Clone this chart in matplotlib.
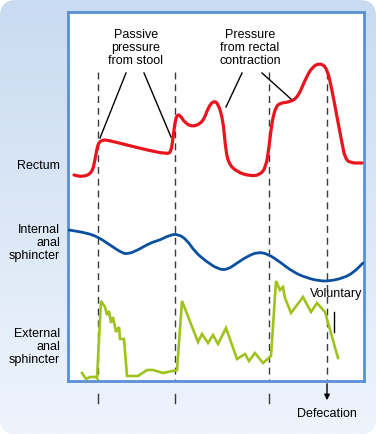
import numpy as np
import matplotlib.pyplot as plt
from matplotlib.patches import FancyBboxPatch, PathPatch
from matplotlib.path import Path

plt.rcParams['font.family'] = ['Liberation Sans', 'DejaVu Sans']

# Traces (time along x, level with larger = lower on screen)
rectum_t = [74, 83, 92, 95, 97, 99, 103, 107, 127, 147, 167, 171, 173, 175, 177, 180, 185,
            193, 203, 208, 213, 218, 223, 225, 228, 237, 250, 260, 266, 269, 271, 273, 276,
            280, 290, 298, 305, 312, 320, 327, 332, 337, 342, 345, 350, 362]
rectum_p = [175, 177, 173, 160, 148, 142, 140, 140, 145, 150, 154, 152, 138, 122, 115, 115, 123,
            127, 122, 108, 101, 103, 120, 143, 163, 172, 176, 175, 167, 147, 130, 117, 107,
            103, 102, 97, 80, 67, 63, 68, 90, 117, 143, 158, 163, 163]

internal_t = [69, 87, 98, 110, 122, 128, 138, 150, 160, 170, 178, 187, 195, 207, 218, 227,
              237, 248, 258, 268, 280, 293, 307, 320, 330, 343, 353, 363]
internal_p = [230, 233, 237, 245, 253, 254, 250, 243, 240, 235, 234, 240, 252, 262, 269, 270,
              263, 256, 252, 254, 262, 272, 278, 281, 281, 278, 273, 263]

external_t = [82, 86, 90, 96, 97, 101, 105, 107, 109, 111, 113, 116, 119, 120, 124, 127, 138,
              147, 153, 163, 177, 182, 198, 202, 208, 213, 218, 226, 237, 245, 249, 255, 263,
              271, 276, 280, 283, 285, 291, 303, 311, 317, 325, 338]
external_p = [373, 379, 377, 377, 378, 301, 307, 315, 311, 323, 317, 332, 327, 339, 339, 376, 376,
              370, 370, 373, 370, 301, 342, 334, 343, 335, 344, 328, 359, 354, 361, 353, 363,
              356, 281, 290, 287, 298, 313, 297, 312, 303, 312, 358]

event_times = [98, 175, 269, 327]
trace_labels = ['Rectum', 'Internal\nanal\nsphincter', 'External\nanal\nsphincter']
label_levels = [166, 243, 347]


def smooth_path(xs, ys):
    # quadratic bezier through midpoints, using the read points as control points
    pts = np.column_stack([xs, ys]).astype(float)
    verts = [pts[0], (pts[0] + pts[1]) / 2]
    codes = [Path.MOVETO, Path.LINETO]
    for i in range(1, len(pts) - 1):
        verts += [pts[i], (pts[i] + pts[i + 1]) / 2]
        codes += [Path.CURVE3, Path.CURVE3]
    verts.append(pts[-1])
    codes.append(Path.LINETO)
    return Path(verts, codes)


fig = plt.figure(figsize=(3.76, 4.34), dpi=100)
fig.patch.set_facecolor('white')

# rounded light-blue gradient background
bg = fig.add_axes([0, 0, 1, 1])
bg.set_xlim(0, 376)
bg.set_ylim(434, 0)
bg.axis('off')
grad = np.linspace(0, 1, 256)[:, None]
cmap = plt.matplotlib.colors.LinearSegmentedColormap.from_list('bg', ['#c9dbf1', '#eef4fc'])
im = bg.imshow(grad, cmap=cmap, extent=[0, 376, 434, 0], aspect='auto')
box = FancyBboxPatch((0, 0), 376, 434, boxstyle='round,pad=0,rounding_size=16',
                     fc='none', ec='none', transform=bg.transData)
bg.add_patch(box)
im.set_clip_path(box)

# white panel
ax = fig.add_axes([68 / 376, 1 - 381 / 434, 296 / 376, 369 / 434])
ax.set_xlim(68, 364)
ax.set_ylim(381, 12)
ax.set_facecolor('white')
ax.set_xticks([])
ax.set_yticks([])
for s in ax.spines.values():
    s.set_color('#5b8fd6')
    s.set_linewidth(2)

ax.add_patch(PathPatch(smooth_path(rectum_t, rectum_p), fc='none', ec='#e8141e', lw=2.3,
                       joinstyle='round', capstyle='round', zorder=3))
ax.add_patch(PathPatch(smooth_path(internal_t, internal_p), fc='none', ec='#0b4f9f', lw=2.0,
                       joinstyle='round', capstyle='round', zorder=3))
ax.plot(external_t, external_p, color='#9fc31c', lw=1.9, solid_joinstyle='miter', zorder=3)

for i, t in enumerate(event_times):
    ax.plot([t, t], [72, 380], ls=(0, (5, 3.5)), color='#3a3a3a', lw=1.0,
            clip_on=False, zorder=2)
    if i < 3:
        ax.plot([t, t], [394, 403], color='#3a3a3a', lw=1.0, clip_on=False)
ax.annotate('', xy=(event_times[3], 403), xytext=(event_times[3], 381),
            arrowprops=dict(arrowstyle='-|>', color='black', lw=1.0, mutation_scale=8),
            annotation_clip=False)

for lab, lev in zip(trace_labels, label_levels):
    ax.text(60, lev, lab, ha='right', va='center', fontsize=9, linespacing=1.1,
            clip_on=False)

ax.text(136, 48, 'Passive\npressure\nfrom stool', ha='center', va='center', fontsize=9,
        linespacing=1.1)
ax.text(250, 48, 'Pressure\nfrom rectal\ncontraction', ha='center', va='center', fontsize=9,
        linespacing=1.1)
ax.text(336, 294, 'Voluntary', ha='center', va='center', fontsize=9, zorder=4)
ax.text(327, 414, 'Defecation', ha='center', va='center', fontsize=9, clip_on=False)

pointers = [((126, 73), (100, 138)), ((144, 73), (171, 137)),
            ((242, 73), (226, 107)), ((262, 73), (291, 99)), ((334, 312), (334, 332))]
for (x0, y0), (x1, y1) in pointers:
    ax.plot([x0, x1], [y0, y1], color='black', lw=1.0, zorder=4)

fig.savefig('out.png', dpi=100)
